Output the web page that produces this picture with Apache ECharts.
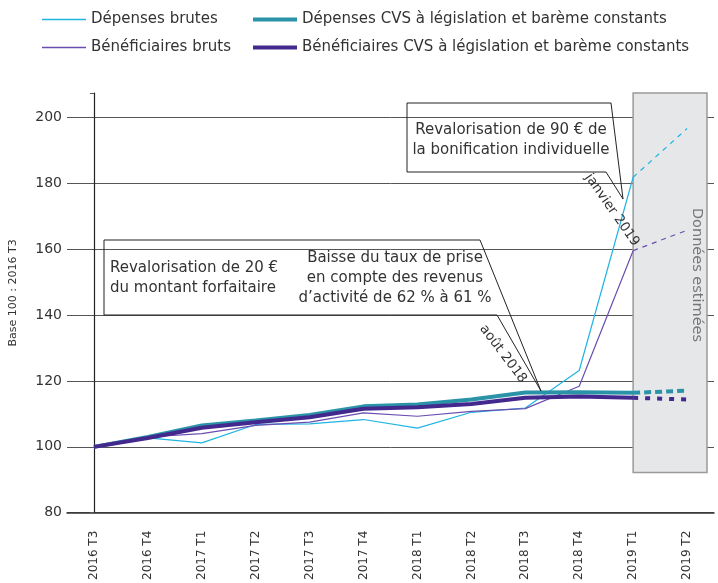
<!DOCTYPE html>
<html>
<head>
<meta charset="utf-8">
<script src="https://cdn.jsdelivr.net/npm/echarts@6/dist/echarts.min.js"></script>
<style>html,body{margin:0;padding:0;background:#fff}#c{width:718px;height:583px}</style>
</head>
<body>
<div id="c"></div>
<script>
const categories = ['2016 T3','2016 T4','2017 T1','2017 T2','2017 T3','2017 T4','2018 T1','2018 T2','2018 T3','2018 T4','2019 T1','2019 T2'];
const depensesBrutes = [100, 102.7, 101.2, 106.8, 107.0, 108.3, 105.7, 110.5, 111.8, 123.2, 181.9, 196.7];
const depensesCVS = [100, 103, 106.5, 108, 109.7, 112.3, 112.9, 114.4, 116.5, 116.6, 116.4, 117.1];
const beneficiairesBruts = [100, 103, 104, 106.5, 107.5, 110.3, 109.3, 110.8, 111.6, 118.4, 159.6, 165.8];
const beneficiairesCVS = [100, 102.7, 105.8, 107.5, 109, 111.6, 112, 113, 114.9, 115.3, 114.9, 114.4];
const yTicks = [80, 100, 120, 140, 160, 180, 200];
const estimatedFrom = 10; // index of 2019 T1: following points are estimates
const estimatedArea = { xFrom: 10, xTo: 11.37, yFrom: 92.2, yTo: 209.5 };

const names = {
  db: 'Dépenses brutes',
  dc: 'Dépenses CVS à législation et barème constants',
  bb: 'Bénéficiaires bruts',
  bc: 'Bénéficiaires CVS à législation et barème constants'
};
const colors = { db: '#1fb4e2', dc: '#2b93a8', bb: '#6a4db0', bc: '#43288e' };

const solid = a => a.map((v, i) => i <= estimatedFrom ? v : null);
const dashed = a => a.map((v, i) => i >= estimatedFrom ? v : null);

const font = '"DejaVu Sans", sans-serif';
const fs = '15px ';

function lineSeries(data, color, width, type, legendName) {
  return {
    name: legendName, type: 'line', data: data, symbol: 'none', showSymbol: false,
    lineStyle: { color: color, width: width, type: type },
    itemStyle: { color: color },
    connectNulls: false, z: width > 2 ? 4 : 3, animation: false
  };
}

const chart = echarts.init(document.getElementById('c'), null, { renderer: 'canvas' });

function legend(name, left, top, thick) {
  return {
    data: [{ name: name, icon: 'rect' }], left: left, top: top,
    itemWidth: 44, itemHeight: thick ? 4 : 1.5, padding: 0, itemGap: 5,
    textStyle: { fontFamily: font, fontSize: 15, color: '#333' }
  };
}

const option = {
  animation: false,
  backgroundColor: '#fff',
  legend: [
    legend(names.db, 42, 12, false),
    legend(names.dc, 253, 12, true),
    legend(names.bb, 42, 40, false),
    legend(names.bc, 253, 40, true)
  ],
  grid: { left: 64, right: 4, top: 93, bottom: 67, containLabel: false },
  xAxis: [{
    type: 'category', data: categories, boundaryGap: true,
    axisLine: { show: true, lineStyle: { color: '#333', width: 1.5 } },
    axisTick: { show: false },
    axisLabel: { rotate: 90, margin: 18, fontFamily: font, fontSize: 12, color: '#333', interval: 0 },
    splitLine: { show: false }
  }, {
    type: 'value', min: -0.5, max: 11.5, show: false
  }],
  yAxis: {
    type: 'value', min: 80, max: 207.5, interval: 20,
    name: 'Base 100 : 2016 T3', nameLocation: 'middle', nameGap: 48, nameRotate: 90,
    nameTextStyle: { fontFamily: font, fontSize: 11, color: '#333', padding: [0, 0, 0, 20] },
    axisLine: { show: true, lineStyle: { color: '#222', width: 1.2 } },
    axisTick: { show: true, length: 4, lineStyle: { color: '#555' } },
    axisLabel: { margin: 5, fontFamily: font, fontSize: 14, color: '#333',
      formatter: v => yTicks.indexOf(v) >= 0 ? String(v) : '' },
    splitLine: { show: true, showMaxLine: false, lineStyle: { color: '#555', width: 1 } }
  },
  series: [
    {
      type: 'line', xAxisIndex: 1, data: [], silent: true, clip: false, z: 1,
      markArea: {
        silent: true,
        itemStyle: { color: '#e6e7e9', borderColor: '#9a9a9a', borderWidth: 1.5 },
        data: [[{ coord: [estimatedArea.xFrom, estimatedArea.yTo] }, { coord: [estimatedArea.xTo, estimatedArea.yFrom] }]]
      }
    },
    lineSeries(solid(depensesBrutes), colors.db, 1.2, 'solid', names.db),
    lineSeries(dashed(depensesBrutes), colors.db, 1.2, [5, 5], names.db + ' est'),
    lineSeries(solid(beneficiairesBruts), colors.bb, 1.2, 'solid', names.bb),
    lineSeries(dashed(beneficiairesBruts), colors.bb, 1.2, [5, 5], names.bb + ' est'),
    lineSeries(solid(depensesCVS), colors.dc, 4, 'solid', names.dc),
    lineSeries(dashed(depensesCVS), colors.dc, 4, [7, 4], names.dc + ' est'),
    lineSeries(solid(beneficiairesCVS), colors.bc, 4, 'solid', names.bc),
    lineSeries(dashed(beneficiairesCVS), colors.bc, 4, [5, 7], names.bc + ' est')
  ],
  graphic: [
    { type: 'polyline', z: 10, silent: true,
      shape: { points: [[104, 315], [104, 240], [480, 240], [541, 391], [497, 315], [104, 315]] },
      style: { stroke: '#222', lineWidth: 1, fill: null } },
    { type: 'polyline', z: 10, silent: true,
      shape: { points: [[407, 172], [407, 103], [611, 103], [623, 199], [606, 172], [407, 172]] },
      style: { stroke: '#222', lineWidth: 1, fill: null } },
    { type: 'text', z: 11, x: 110, y: 268, style: { text: 'Revalorisation de 20 €', font: fs + font, fill: '#333', textAlign: 'left', textVerticalAlign: 'middle' } },
    { type: 'text', z: 11, x: 110, y: 288, style: { text: 'du montant forfaitaire', font: fs + font, fill: '#333', textAlign: 'left', textVerticalAlign: 'middle' } },
    { type: 'text', z: 11, x: 395, y: 258, style: { text: 'Baisse du taux de prise', font: fs + font, fill: '#333', textAlign: 'center', textVerticalAlign: 'middle' } },
    { type: 'text', z: 11, x: 395, y: 278, style: { text: 'en compte des revenus', font: fs + font, fill: '#333', textAlign: 'center', textVerticalAlign: 'middle' } },
    { type: 'text', z: 11, x: 395, y: 298, style: { text: 'd\u2019activité de 62 % à 61 %', font: fs + font, fill: '#333', textAlign: 'center', textVerticalAlign: 'middle' } },
    { type: 'text', z: 11, x: 511, y: 130, style: { text: 'Revalorisation de 90 € de', font: fs + font, fill: '#333', textAlign: 'center', textVerticalAlign: 'middle' } },
    { type: 'text', z: 11, x: 511, y: 150, style: { text: 'la bonification individuelle', font: fs + font, fill: '#333', textAlign: 'center', textVerticalAlign: 'middle' } },
    { type: 'text', z: 11, x: 503, y: 354, rotation: -53 * Math.PI / 180, style: { text: 'août 2018', font: '13.5px ' + font, fill: '#333', textAlign: 'center', textVerticalAlign: 'middle' } },
    { type: 'text', z: 11, x: 612, y: 210, rotation: -55 * Math.PI / 180, style: { text: 'janvier 2019', font: '13.5px ' + font, fill: '#333', textAlign: 'center', textVerticalAlign: 'middle' } },
    { type: 'text', z: 11, x: 697, y: 275, rotation: -Math.PI / 2, style: { text: 'Données estimées', font: '14.5px ' + font, fill: '#777', textAlign: 'center', textVerticalAlign: 'middle' } }
  ]
};
chart.setOption(option);
</script>
</body>
</html>
